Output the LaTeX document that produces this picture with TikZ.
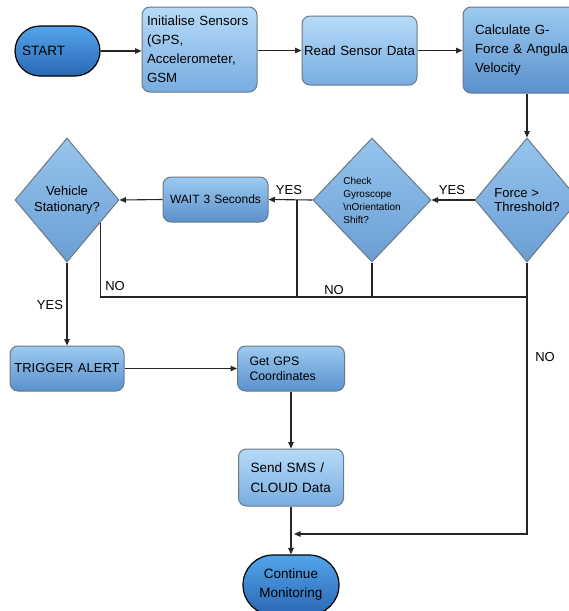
\documentclass[tikz,border=0pt]{standalone}
\usepackage{fontspec}
\setmainfont{Liberation Sans}
\usetikzlibrary{arrows.meta}
\usetikzlibrary{positioning}
\usetikzlibrary{shapes.geometric}
\usetikzlibrary{calc}

\definecolor{boxtop}{RGB}{182,219,248}
\definecolor{boxbot}{RGB}{120,172,224}
\definecolor{darktop}{RGB}{156,202,240}
\definecolor{darkbot}{RGB}{90,144,204}
\definecolor{termtop}{RGB}{84,164,234}
\definecolor{termbot}{RGB}{42,104,180}
\definecolor{diatop}{RGB}{150,196,236}
\definecolor{diabot}{RGB}{106,158,212}
\definecolor{edgegray}{RGB}{108,120,134}

\begin{document}
\begin{tikzpicture}[x=1pt, y=-1pt,
        process/.style={rectangle, rounded corners=8pt, draw=edgegray, line width=1pt, top color=boxtop, bottom color=boxbot, inner ysep=0pt, font=\fontsize{13.3}{19}\selectfont},
        processdark/.style={process, top color=darktop, bottom color=darkbot},
        terminal/.style={rectangle, draw=black, line width=1.2pt, top color=termtop, bottom color=termbot, inner ysep=0pt, font=\fontsize{13.5}{19}\selectfont},
        decision/.style={diamond, draw=edgegray, line width=1pt, top color=diatop, bottom color=diabot, inner sep=0pt, minimum height=124pt},
        arrow/.style={-{Triangle[length=6.5pt, width=5.5pt]}, line width=1.1pt, black!85},
        line/.style={line width=1.1pt, black!85},
        flowlabel/.style={font=\fontsize{13}{15}\selectfont}
    ]

    \clip (0,0) rectangle (569,611);

    % Fila superior
    \node[terminal, rounded corners=25pt, minimum height=50pt, text width=71pt, inner xsep=7pt, align=left] (start) at (57.5,51) {START};
    \node[process, minimum height=85pt, text width=105pt, inner xsep=5pt, align=left] (init) at (199.5,49.5) {Initialise Sensors\\(GPS,\\Accelerometer,\\GSM};
    \node[process, minimum height=69pt, text width=111pt, inner xsep=2pt, align=center] (read) at (359.5,50.5) {Read Sensor Data};
    \node[processdark, minimum height=86pt, text width=108pt, inner xsep=12pt, align=left] (calc) at (529,50) {Calculate G-\\Force \& Angular\\Velocity};

    % Decisiones
    \node[decision, minimum width=104pt, align=center, font=\fontsize{13}{16}\selectfont] (vehicle) at (67,200) {Vehicle\\Stationary?};
    \node[processdark, minimum height=45pt, text width=99pt, inner xsep=3pt, align=center, font=\fontsize{12}{15}\selectfont] (wait) at (215.5,199.5) {WAIT 3 Seconds};
    \node[decision, minimum width=118pt, align=left, font=\fontsize{10}{13}\selectfont] (check) at (372,200) {Check\\Gyroscope\\\textbackslash nOrientation\\Shift?};
    \node[decision, minimum width=104pt, align=left, font=\fontsize{13}{14.5}\selectfont] (force) at (527,200) {Force >\\Threshold?};

    % Alerta
    \node[processdark, minimum height=45pt, text width=108pt, inner xsep=3pt, align=center, font=\fontsize{13}{15}\selectfont] (trigger) at (67,368.5) {TRIGGER ALERT};
    \node[processdark, minimum height=45pt, text width=83pt, inner xsep=12pt, align=left, font=\fontsize{12.3}{15}\selectfont] (gps) at (291,368.5) {Get GPS\\Coordinates};
    \node[process, minimum height=57pt, text width=81pt, inner xsep=12pt, align=left, font=\fontsize{13.5}{20}\selectfont] (sms) at (291,477.5) {Send SMS /\\CLOUD Data};
    \node[terminal, rounded corners=30pt, minimum height=60pt, text width=90pt, inner xsep=3pt, align=center] (cont) at (291,585) {Continue\\Monitoring};

    % Puntos de union
    \coordinate (yesjoin) at (297,200);
    \coordinate (bus) at (0,297);
    \coordinate (backloop) at (294,534);

    % Conexiones fila superior
    \draw[arrow] (start.east) -- (start.east -| init.west);
    \draw[arrow] (init.east |- read.west) -- (read.west);
    \draw[arrow] (read.east) -- (read.east -| calc.west);
    \draw[arrow] (force.north |- calc.south) -- (force.north);

    % Conexiones decisiones
    \draw[arrow] (force.west) -- (check.east);
    \draw[arrow] (check.west) -- (wait.east);
    \draw[arrow] (wait.west) -- (vehicle.east);
    \draw[line] (yesjoin) -- (yesjoin |- bus);
    \draw[line] ($(vehicle.east)!0.36!(vehicle.south)$) |- (force.south |- bus);
    \draw[line] (check.south) -- (check.south |- bus);
    \draw[arrow] (force.south) |- (backloop);

    % Conexiones alerta
    \draw[arrow] (vehicle.south) -- (trigger.north);
    \draw[arrow] (trigger.east) -- (gps.west);
    \draw[arrow] (gps.south) -- (sms.north);
    \draw[arrow] (sms.south) -- (cont.north);

    % Etiquetas
    \node[flowlabel] (yesforce) at (452,190) {YES};
    \node[flowlabel] (yescheck) at (289,190) {YES};
    \node[flowlabel] (yesvehicle) at (50,305) {YES};
    \node[flowlabel] (novehicle) at (115,286) {NO};
    \node[flowlabel] (nocheck) at (334,290) {NO};
    \node[flowlabel] (noforce) at (545,357) {NO};

\end{tikzpicture}
\end{document}
